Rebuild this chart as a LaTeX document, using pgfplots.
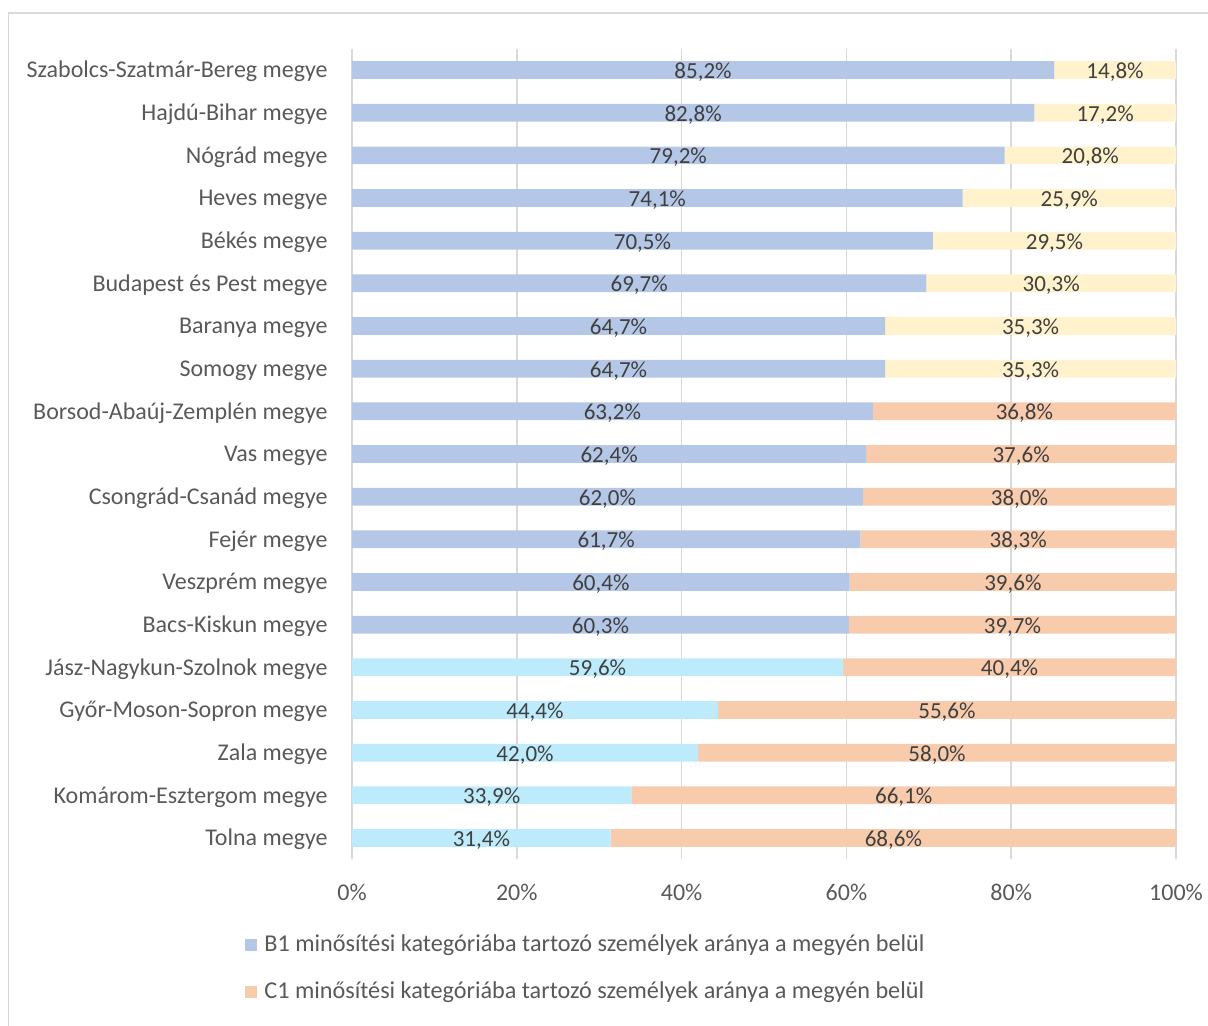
\documentclass[border=0pt]{standalone}
\usepackage{fontspec}
\setmainfont{Carlito}
\usepackage{pgfplots}
\usepackage{pgfplotstable}
\pgfplotsset{compat=1.18}
\definecolor{bblue}{HTML}{B4C7E7}
\definecolor{bcyan}{HTML}{BDEBFB}
\definecolor{ccream}{HTML}{FFF2CC}
\definecolor{cpeach}{HTML}{F8CBAD}
\definecolor{gridc}{HTML}{D9D9D9}
\definecolor{txt}{HTML}{595959}
\definecolor{lbl}{HTML}{404040}

\pgfplotstableread{
idx Bblue Bcyan Ccream Cpeach B1 C1
0 85.2 0 14.8 0 85.2 14.8
1 82.8 0 17.2 0 82.8 17.2
2 79.2 0 20.8 0 79.2 20.8
3 74.1 0 25.9 0 74.1 25.9
4 70.5 0 29.5 0 70.5 29.5
5 69.7 0 30.3 0 69.7 30.3
6 64.7 0 35.3 0 64.7 35.3
7 64.7 0 35.3 0 64.7 35.3
8 63.2 0 0 36.8 63.2 36.8
9 62.4 0 0 37.6 62.4 37.6
10 62.0 0 0 38.0 62.0 38.0
11 61.7 0 0 38.3 61.7 38.3
12 60.4 0 0 39.6 60.4 39.6
13 60.3 0 0 39.7 60.3 39.7
14 0 59.6 0 40.4 59.6 40.4
15 0 44.4 0 55.6 44.4 55.6
16 0 42.0 0 58.0 42.0 58.0
17 0 33.9 0 66.1 33.9 66.1
18 0 31.4 0 68.6 31.4 68.6
}\data

\begin{document}
\begin{tikzpicture}
\useasboundingbox (0pt,0pt) rectangle (604pt,513pt);
\draw[gridc, line width=0.75pt] (4.25pt,0pt) -- (4.25pt,506.5pt) -- (604pt,506.5pt);
\pgfplotsset{base/.style={scale only axis, width=412pt, height=405.3pt,
  at={(176pt,83.35pt)}, anchor=south west,
  xmin=0, xmax=100, ymin=-0.5, ymax=18.5, y dir=reverse}}
\begin{axis}[base, xbar stacked, bar width=8.85pt,
  axis line style={draw=none}, major tick length=0pt,
  xmajorgrids, grid style={gridc, line width=0.75pt},
  xtick={0,20,...,100}, ytick={0,...,18},
  yticklabels={Szabolcs-Szatmár-Bereg megye, Hajdú-Bihar megye, Nógrád megye, Heves megye, Békés megye, Budapest és Pest megye, Baranya megye, Somogy megye, Borsod-Abaúj-Zemplén megye, Vas megye, Csongrád-Csanád megye, Fejér megye, Veszprém megye, Bacs-Kiskun megye, Jász-Nagykun-Szolnok megye, Győr-Moson-Sopron megye, Zala megye, Komárom-Esztergom megye, Tolna megye},
  xticklabel={\pgfmathprintnumber[assume math mode=true]{\tick}\%},
  xticklabel style={font=\fontsize{12}{14}\selectfont, text=txt, inner sep=0pt, anchor=north, yshift=-12pt},
  yticklabel style={font=\fontsize{12}{14}\selectfont, text=txt, inner sep=0pt, anchor=east, xshift=-12pt, yshift=-0.8pt},
  legend style={at={(-0.1299,-0.093)}, anchor=north west, draw=none, fill=none,
    inner sep=0pt, row sep=13.5pt, column sep=3.5pt,
    font=\fontsize{12.1}{14}\selectfont, text=txt, nodes={inner sep=0pt}},
  legend cell align=left,
]
\addplot[fill=bblue, draw=none, legend image code/.code={\fill[bblue] (0pt,-3pt) rectangle (6pt,3pt);}] table[x=Bblue, y=idx] {\data};
\addlegendentry{B1 minősítési kategóriába tartozó személyek aránya a megyén belül}
\addplot[fill=bcyan, draw=none, forget plot] table[x=Bcyan, y=idx] {\data};
\addplot[fill=ccream, draw=none, forget plot] table[x=Ccream, y=idx] {\data};
\addplot[fill=cpeach, draw=none, legend image code/.code={\fill[cpeach] (0pt,-3pt) rectangle (6pt,3pt);}] table[x=Cpeach, y=idx] {\data};
\addlegendentry{C1 minősítési kategóriába tartozó személyek aránya a megyén belül}
\end{axis}
\begin{axis}[base, hide axis]
\addplot[only marks, mark=*, mark size=0pt, mark options={draw=none, fill=none},
  point meta=explicit,
  nodes near coords={\pgfmathprintnumber[fixed, fixed zerofill, precision=1, use comma, assume math mode=true]{\pgfplotspointmeta}\%},
  nodes near coords align={anchor=center},
  every node near coord/.append style={font=\fontsize{11.5}{13}\selectfont, text=lbl, inner sep=0pt, anchor=center, yshift=-1pt}]
  table[x expr=\thisrow{B1}/2, y=idx, meta=B1] {\data};
\addplot[only marks, mark=*, mark size=0pt, mark options={draw=none, fill=none},
  point meta=explicit,
  nodes near coords={\pgfmathprintnumber[fixed, fixed zerofill, precision=1, use comma, assume math mode=true]{\pgfplotspointmeta}\%},
  nodes near coords align={anchor=center},
  every node near coord/.append style={font=\fontsize{11.5}{13}\selectfont, text=lbl, inner sep=0pt, anchor=center, yshift=-1pt}]
  table[x expr=\thisrow{B1}+\thisrow{C1}/2, y=idx, meta=C1] {\data};
\end{axis}
\end{tikzpicture}
\end{document}
